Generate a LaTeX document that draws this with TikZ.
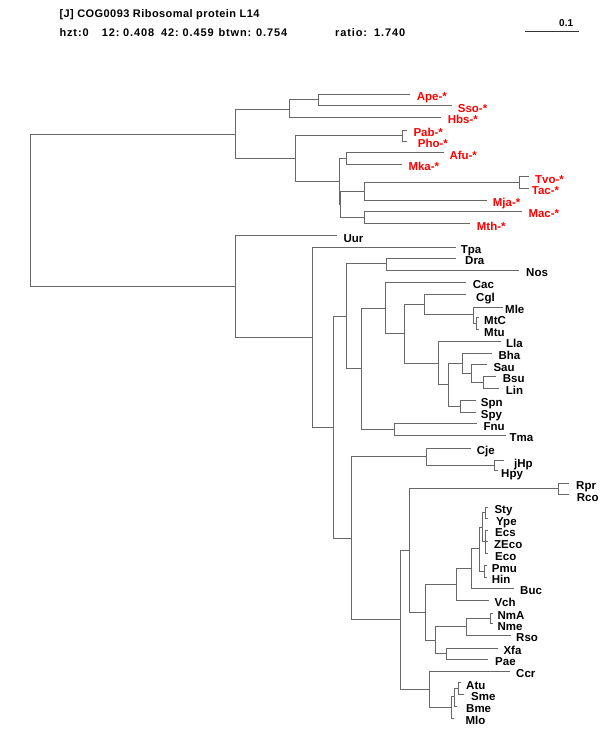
\documentclass[tikz,border=0pt]{standalone}
\usepackage{fontspec}
\setmainfont{Liberation Sans}
\newfontfamily\hdrfont[LetterSpace=4]{Liberation Sans}
\newfontfamily\hdrwfont[LetterSpace=8]{Liberation Sans}
\newfontfamily\labfont{Liberation Sans}
\definecolor{treegray}{RGB}{104,104,104}
\definecolor{archred}{RGB}{255,0,0}
\tikzset{
  br/.style={draw=treegray, line width=1.5pt},
  lab/.style={anchor=base west, inner sep=0pt, font=\labfont\bfseries\fontsize{11.5}{12}\selectfont, text=black},
  arch/.style={lab, text=archred},
  hdr/.style={anchor=base west, inner sep=0pt, font=\hdrfont\bfseries\fontsize{11}{12}\selectfont},
  hdrw/.style={anchor=base west, inner sep=0pt, font=\hdrwfont\bfseries\fontsize{11}{12}\selectfont},
  scl/.style={anchor=base east, inner sep=0pt, font=\labfont\bfseries\fontsize{10}{11}\selectfont},
  sbar/.style={draw=black!80, line width=1.1pt}
}
\begin{document}
\begin{tikzpicture}[x=1pt,y=-1pt]
\useasboundingbox[fill=white] (0,0) rectangle (600,750);
% header
\node[hdr] (t1) at (59.3,17.5) {[J] COG0093 Ribosomal protein L14};
\node[hdrw] (t2) at (59.3,36) {hzt:0};
\node[hdrw] (t3) at (101.7,36) {12:};
\node[hdrw] (t3v) at (123,36) {0.408};
\node[hdrw] (t4) at (161,36) {42:};
\node[hdrw] (t4v) at (182.5,36) {0.459};
\node[hdrw] (t5) at (218.3,36) {btwn:};
\node[hdrw] (t5v) at (256,36) {0.754};
\node[hdrw] (t6) at (335,36) {ratio:};
\node[hdrw] (t6v) at (374,36) {1.740};
\coordinate (s1) at (525,31.5);
\coordinate (s2) at (579,31.5);
\draw[sbar] (s1) -- (s2);
\node[scl] (s0) at (573.3,26.7) {0.1};
% ---------- internal nodes and leaf ends (archaea)
\coordinate (R0) at (30.5,210.5);
\coordinate (A0) at (235.5,134.5);
\coordinate (A1) at (289.5,109.5);
\coordinate (A2) at (318.5,99.5);
\coordinate (eApe) at (409.5,94.5);
\coordinate (eSso) at (451.5,105.5);
\coordinate (eHbs) at (440.5,117.5);
\coordinate (A3) at (295.5,158.5);
\coordinate (A4) at (402.5,135.5);
\coordinate (ePab) at (406.5,130.5);
\coordinate (ePho) at (406.5,141.5);
\coordinate (A5) at (339.5,181.5);
\coordinate (A6) at (346.5,158.5);
\coordinate (eAfu) at (443.5,152.5);
\coordinate (eMka) at (401.5,164.5);
\coordinate (A7) at (340.5,204.5);
\coordinate (A8) at (364.5,191.5);
\coordinate (A9) at (519.5,182.5);
\coordinate (eTvo) at (528.5,176.5);
\coordinate (eTac) at (528.5,188.5);
\coordinate (eMja) at (486.5,200.5);
\coordinate (A10) at (364.5,217.5);
\coordinate (eMac) at (521.5,211.5);
\coordinate (eMth) at (469.5,223.5);
% ---------- bacteria
\coordinate (B0) at (235.5,286.5);
\coordinate (eUur) at (336.5,235.5);
\coordinate (B1) at (312.5,337.5);
\coordinate (eTpa) at (455.5,247.5);
\coordinate (B2) at (333.5,427.5);
\coordinate (B3) at (346.5,316.5);
\coordinate (B4) at (386.5,263.5);
\coordinate (eDra) at (455.5,258.5);
\coordinate (eNos) at (518.5,270.5);
\coordinate (B5) at (361.5,368.5);
\coordinate (B6) at (385.5,308.5);
\coordinate (eCac) at (465.5,282.5);
\coordinate (B7) at (404.5,333.5);
\coordinate (B8) at (424.5,304.5);
\coordinate (eCgl) at (465.5,294.5);
\coordinate (B9) at (473.5,314.5);
\coordinate (eMle) at (502.5,307.5);
\coordinate (B10) at (476.5,323.5);
\coordinate (eMtC) at (478.5,317.5);
\coordinate (eMtu) at (478.5,329.5);
\coordinate (B11) at (438.5,363.5);
\coordinate (eLla) at (500.5,341.5);
\coordinate (B12) at (448.5,384.5);
\coordinate (B13) at (462.5,363.5);
\coordinate (eBha) at (491.5,353.5);
\coordinate (B14) at (471.5,373.5);
\coordinate (eSau) at (486.5,364.5);
\coordinate (B15) at (483.5,382.5);
\coordinate (eBsu) at (495.5,376.5);
\coordinate (eLin) at (498.5,388.5);
\coordinate (B16) at (460.5,406.5);
\coordinate (eSpn) at (475.5,400.5);
\coordinate (eSpy) at (475.5,412.5);
\coordinate (B17) at (394.5,429.5);
\coordinate (eFnu) at (476.5,423.5);
\coordinate (eTma) at (505.5,435.5);
\coordinate (B18) at (351.5,538.5);
\coordinate (B19) at (426.5,456.5);
\coordinate (eCje) at (470.5,448.5);
\coordinate (B20) at (494.5,465.5);
\coordinate (ejHp) at (503.5,460.5);
\coordinate (eHpy) at (497.5,470.5);
\coordinate (B21) at (400.5,619.5);
\coordinate (B22) at (409.5,550.5);
\coordinate (B23) at (558.5,488.5);
\coordinate (eRpr) at (568.5,483.5);
\coordinate (eRco) at (568.5,494.5);
\coordinate (B24) at (425.5,612.5);
\coordinate (B25) at (456.5,584.5);
\coordinate (B26) at (471.5,568.5);
\coordinate (B27) at (479.5,548.5);
\coordinate (B28) at (482.5,527.5);
\coordinate (B29) at (485.5,512.5);
\coordinate (eSty) at (487.5,507.5);
\coordinate (eYpe) at (487.5,518.5);
\coordinate (B30) at (485.5,541.5);
\coordinate (eEcs) at (487.5,530.5);
\coordinate (eZEco) at (487.5,541.5);
\coordinate (eEco) at (487.5,553.5);
\coordinate (B31) at (484.5,571.5);
\coordinate (ePmu) at (486.5,565.5);
\coordinate (eHin) at (486.5,577.5);
\coordinate (eBuc) at (513.5,588.5);
\coordinate (eVch) at (488.5,600.5);
\coordinate (B32) at (435.5,640.5);
\coordinate (B33) at (466.5,626.5);
\coordinate (B34) at (490.5,618.5);
\coordinate (eNmA) at (492.5,613.5);
\coordinate (eNme) at (492.5,623.5);
\coordinate (eRso) at (510.5,635.5);
\coordinate (B35) at (446.5,653.5);
\coordinate (eXfa) at (497.5,648.5);
\coordinate (ePae) at (487.5,659.5);
\coordinate (B36) at (429.5,689.5);
\coordinate (eCcr) at (509.5,671.5);
\coordinate (B37) at (451.5,707.5);
\coordinate (B38) at (454.5,696.5);
\coordinate (B39) at (458.5,688.5);
\coordinate (eAtu) at (460.5,682.5);
\coordinate (eSme) at (463.5,694.5);
\coordinate (eBme) at (456.5,706.5);
\coordinate (eMlo) at (453.5,718.5);
% ---------- branches
\foreach \p/\c in {R0/A0, A0/A1, A1/A2, A2/eApe, A2/eSso, A1/eHbs, A0/A3, A3/A4, A4/ePab, A4/ePho,
  A3/A5, A5/A6, A6/eAfu, A6/eMka, A5/A7, A7/A8, A8/A9, A9/eTvo, A9/eTac, A8/eMja, A7/A10, A10/eMac, A10/eMth,
  R0/B0, B0/eUur, B0/B1, B1/eTpa, B1/B2, B2/B3, B3/B4, B4/eDra, B4/eNos, B3/B5, B5/B6, B6/eCac, B6/B7,
  B7/B8, B8/eCgl, B8/B9, B9/eMle, B9/B10, B10/eMtC, B10/eMtu, B7/B11, B11/eLla, B11/B12, B12/B13, B13/eBha,
  B13/B14, B14/eSau, B14/B15, B15/eBsu, B15/eLin, B12/B16, B16/eSpn, B16/eSpy, B5/B17, B17/eFnu, B17/eTma,
  B2/B18, B18/B19, B19/eCje, B19/B20, B20/ejHp, B20/eHpy, B18/B21, B21/B22, B22/B23, B23/eRpr, B23/eRco,
  B22/B24, B24/B25, B25/B26, B26/B27, B27/B28, B28/B29, B29/eSty, B29/eYpe, B28/B30, B30/eEcs, B30/eZEco,
  B30/eEco, B27/B31, B31/ePmu, B31/eHin, B26/eBuc, B25/eVch, B24/B32, B32/B33, B33/B34, B34/eNmA, B34/eNme,
  B33/eRso, B32/B35, B35/eXfa, B35/ePae, B21/B36, B36/eCcr, B36/B37, B37/B38, B38/B39, B39/eAtu, B39/eSme,
  B38/eBme, B37/eMlo}
  \draw[br] (\p) |- (\c);
% ---------- labels (archaea, red)
\node[arch] (lApe) at (416.7,100.7) {Ape-*};
\node[arch] (lSso) at (457.7,112) {Sso-*};
\node[arch] (lHbs) at (447.7,123.7) {Hbs-*};
\node[arch] (lPab) at (413.3,136) {Pab-*};
\node[arch] (lPho) at (417.7,147.7) {Pho-*};
\node[arch] (lAfu) at (449.3,159) {Afu-*};
\node[arch] (lMka) at (408.3,170.7) {Mka-*};
\node[arch] (lTvo) at (535,183) {Tvo-*};
\node[arch] (lTac) at (531.7,194.7) {Tac-*};
\node[arch] (lMja) at (492.7,206.7) {Mja-*};
\node[arch] (lMac) at (528.3,217.7) {Mac-*};
\node[arch] (lMth) at (476.7,230) {Mth-*};
% ---------- labels (bacteria)
\node[lab] (lUur) at (343.3,242) {Uur};
\node[lab] (lTpa) at (460.7,253.3) {Tpa};
\node[lab] (lDra) at (465,264.3) {Dra};
\node[lab] (lNos) at (526,276.7) {Nos};
\node[lab] (lCac) at (472.7,288.3) {Cac};
\node[lab] (lCgl) at (476,301) {Cgl};
\node[lab] (lMle) at (505,313.3) {Mle};
\node[lab] (lMtC) at (484,324.3) {MtC};
\node[lab] (lMtu) at (484,336) {Mtu};
\node[lab] (lLla) at (506,347.7) {Lla};
\node[lab] (lBha) at (498.3,359.3) {Bha};
\node[lab] (lSau) at (493.3,371) {Sau};
\node[lab] (lBsu) at (502.7,382.7) {Bsu};
\node[lab] (lLin) at (505.7,394.3) {Lin};
\node[lab] (lSpn) at (480.7,406.7) {Spn};
\node[lab] (lSpy) at (480.7,418.7) {Spy};
\node[lab] (lFnu) at (483.3,430) {Fnu};
\node[lab] (lTma) at (509.3,441.7) {Tma};
\node[lab] (lCje) at (476.7,454.3) {Cje};
\node[lab] (ljHp) at (514,467) {jHp};
\node[lab] (lHpy) at (501,477.5) {Hpy};
\node[lab] (lRpr) at (576,489.3) {Rpr};
\node[lab] (lRco) at (576.7,501) {Rco};
\node[lab] (lSty) at (494.3,513.5) {Sty};
\node[lab] (lYpe) at (496,525) {Ype};
\node[lab] (lEcs) at (495,536.5) {Ecs};
\node[lab] (lZEco) at (494,548) {ZEco};
\node[lab] (lEco) at (495,560) {Eco};
\node[lab] (lPmu) at (491.7,572) {Pmu};
\node[lab] (lHin) at (491.7,583.5) {Hin};
\node[lab] (lBuc) at (520,594.3) {Buc};
\node[lab] (lVch) at (494.3,606.7) {Vch};
\node[lab] (lNmA) at (497.3,619) {NmA};
\node[lab] (lNme) at (497.3,630.7) {Nme};
\node[lab] (lRso) at (516,641.7) {Rso};
\node[lab] (lXfa) at (503.3,654.3) {Xfa};
\node[lab] (lPae) at (495,665.3) {Pae};
\node[lab] (lCcr) at (516,677.7) {Ccr};
\node[lab] (lAtu) at (466,689) {Atu};
\node[lab] (lSme) at (471,700.7) {Sme};
\node[lab] (lBme) at (466,712.3) {Bme};
\node[lab] (lMlo) at (465.3,724) {Mlo};
\end{tikzpicture}
\end{document}
